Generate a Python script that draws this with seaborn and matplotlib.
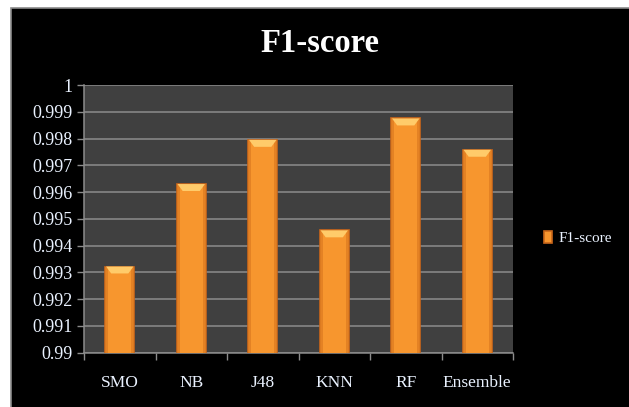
import matplotlib
matplotlib.use("Agg")
import matplotlib.pyplot as plt
from matplotlib.patches import Rectangle, Polygon
from matplotlib.ticker import FixedLocator, FixedFormatter
import seaborn as sns
import pandas as pd

# F1-score per classifier
models = ["SMO", "NB", "J48", "KNN", "RF", "Ensemble"]
f1_scores = [0.99322, 0.99630, 0.99795, 0.99457, 0.99875, 0.99758]
y_ticks = [0.99, 0.991, 0.992, 0.993, 0.994, 0.995, 0.996, 0.997, 0.998, 0.999, 1.0]
y_tick_labels = ["0.99", "0.991", "0.992", "0.993", "0.994", "0.995",
                 "0.996", "0.997", "0.998", "0.999", "1"]
series_name = "F1-score"

df = pd.DataFrame({"model": models, "f1": f1_scores})

sns.set_theme(style="dark")
plt.rcParams["font.family"] = ["Liberation Serif", "DejaVu Serif"]

W, H = 629, 407
fig = plt.figure(figsize=(W / 100, H / 100), dpi=100, facecolor="white")

# black chart panel with thin grey frame
fig.patches.append(Rectangle((11 / W, -0.01), (W - 11) / W + 0.01, 1 - 8 / H + 0.01,
                             transform=fig.transFigure, facecolor="black",
                             edgecolor="#8a8a8a", linewidth=1.2, zorder=-5))

ax = fig.add_axes([84 / W, 1 - 352.7 / H, (513 - 84) / W, (352.7 - 85) / H])
ax.set_facecolor("#404040")

bar_color = "#F7962E"
sns.barplot(data=df, x="model", y="f1", color=bar_color, width=0.4,
            saturation=1, edgecolor="#C9661A", linewidth=1.2, ax=ax, zorder=3,
            label=series_name)

# shaded sides and lighter bevel on each bar
for patch in list(ax.patches):
    x0 = patch.get_x()
    w = patch.get_width()
    base = patch.get_y()
    top = base + patch.get_height()
    side = w * 0.1
    ax.add_patch(Rectangle((x0, base), side, top - base, facecolor="#E07E22",
                           edgecolor="none", alpha=0.8, zorder=3.5))
    ax.add_patch(Rectangle((x0 + w - side, base), side, top - base, facecolor="#E07E22",
                           edgecolor="none", alpha=0.8, zorder=3.5))
    inset = w * 0.2
    dy = 0.00026
    ax.add_patch(Polygon([(x0 + 0.02 * w, top), (x0 + w - 0.02 * w, top),
                          (x0 + w - inset, top - dy), (x0 + inset, top - dy)],
                         closed=True, facecolor="#FFCB6A", edgecolor="none", zorder=4))

ax.set_ylim(0.99, 1.0)
ax.set_xlim(-0.5, len(models) - 0.5)
ax.yaxis.set_major_locator(FixedLocator(y_ticks))
ax.yaxis.set_major_formatter(FixedFormatter(y_tick_labels))
ax.grid(axis="y", color="#8c8c8c", linewidth=1.1, zorder=1)
ax.grid(axis="x", visible=False)
ax.set_axisbelow(True)

ax.set_xlabel("")
ax.set_ylabel("")
ax.tick_params(axis="y", colors="#8c8c8c", labelcolor="#EAF2FF", labelsize=13,
               length=5, width=1, left=True, pad=3)
ax.tick_params(axis="x", which="major", length=0, labelcolor="#EAF2FF",
               labelsize=12.5, pad=16)
ax.set_xticks([i + 0.5 for i in range(-1, len(models))], minor=True)
ax.tick_params(axis="x", which="minor", colors="#8c8c8c", length=5, width=1, bottom=True)

for side_name in ("left", "bottom"):
    ax.spines[side_name].set_visible(True)
    ax.spines[side_name].set_color("#8c8c8c")
    ax.spines[side_name].set_linewidth(1.1)
for side_name in ("top", "right"):
    ax.spines[side_name].set_visible(False)

fig.text(320 / W, 1 - 43 / H, "F1-score", ha="center", va="center",
         color="white", fontsize=23.5, fontweight="bold")

leg = ax.legend(loc="center left", bbox_to_anchor=(536 / W, 1 - 238 / H),
                bbox_transform=fig.transFigure, frameon=False,
                labelcolor="#EAF2FF", fontsize=11, handlelength=0.55,
                handleheight=0.8, handletextpad=0.4, borderpad=0)

fig.savefig("out.png", dpi=100, facecolor=fig.get_facecolor())
